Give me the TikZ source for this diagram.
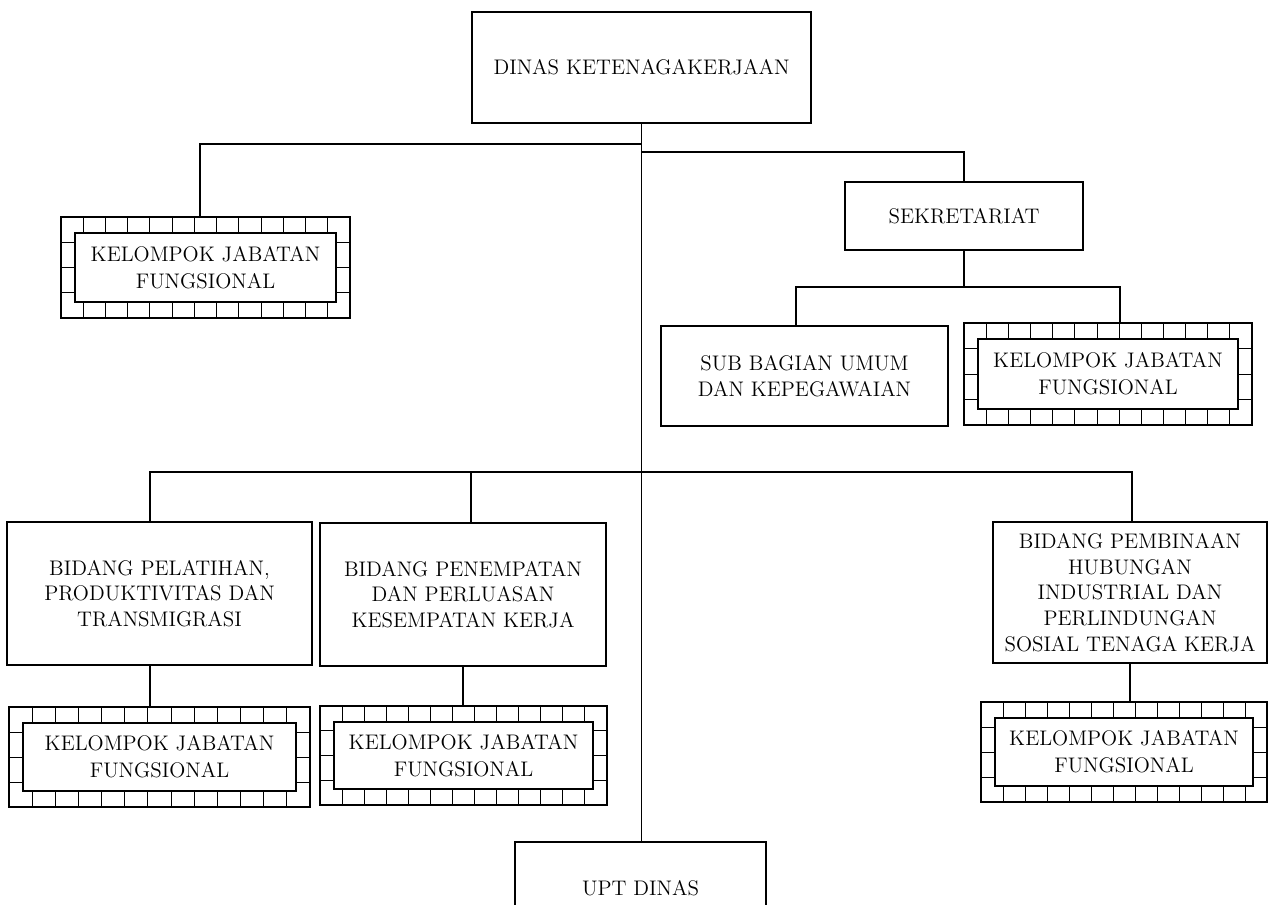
\documentclass[tikz,border=0pt]{standalone}
\usetikzlibrary{shadows}

\newcommand{\teks}{\fontsize{12}{14.6}\selectfont}
\newcommand{\tekskjf}{\fontsize{12}{15.4}\selectfont}

\tikzset{
	kotak/.style={draw, line width=0.7pt, align=center, font=\teks, inner sep=2pt},
	kjfluar/.style={draw, line width=0.6pt, inner sep=0pt},
	kjfdalam/.style={draw, fill=white, line width=0.7pt, align=center, font=\tekskjf, inner sep=0pt,
		drop shadow={shadow xshift=0.6pt, shadow yshift=-0.6pt, fill=black, opacity=0.8}},
	bata/.style={line width=0.5pt},
	garis/.style={line width=0.7pt}
}

% kotak bata: nama, x tengah, y tengah, lebar, tinggi (px)
\newcommand{\kjfbox}[5]{
	\pgfmathsetmacro{\KJw}{#4*0.02}
	\pgfmathsetmacro{\KJh}{#5*0.02}
	\pgfmathsetmacro{\KJwi}{(#4-28)*0.02}
	\pgfmathsetmacro{\KJhi}{(#5-32)*0.02}
	\pgfmathsetmacro{\KJxa}{#2-#4/2}
	\pgfmathsetmacro{\KJya}{#3-#5/2}
	\node[kjfluar, minimum width=\KJw cm, minimum height=\KJh cm] (#1) at (#2,#3) {};
	\foreach \i in {1,...,12}
		\draw[bata] ({\KJxa+\i*#4/13},\KJya) -- ++(0,#5);
	\foreach \j in {1,2,3}
		\draw[bata] (\KJxa,{\KJya+\j*#5/4}) -- ++(#4,0);
	\node[kjfdalam, minimum width=\KJwi cm, minimum height=\KJhi cm] (#1-isi) at (#2,#3) {KELOMPOK JABATAN\\FUNGSIONAL};
}

\begin{document}
\begin{tikzpicture}[x=0.02cm, y=-0.02cm]
\useasboundingbox (0,0) rectangle (1270,904);
\clip (0,0) rectangle (1270,904);

\node[kotak, minimum width=6.78cm, minimum height=2.22cm] (dinas) at (641.5,67.5) {DINAS KETENAGAKERJAAN};
\node[kotak, minimum width=4.76cm, minimum height=1.36cm] (sek) at (964,216) {SEKRETARIAT};
\node[kotak, minimum width=5.74cm, minimum height=2cm] (subbag) at (804.5,376) {SUB BAGIAN UMUM\\DAN KEPEGAWAIAN};
\node[kotak, minimum width=6.1cm, minimum height=2.86cm] (pelatihan) at (159.5,593.5) {BIDANG PELATIHAN,\\PRODUKTIVITAS DAN\\TRANSMIGRASI};
\node[kotak, minimum width=5.72cm, minimum height=2.86cm] (penempatan) at (463,594.5) {BIDANG PENEMPATAN\\DAN PERLUASAN\\KESEMPATAN KERJA};
\node[kotak, minimum width=5.48cm, minimum height=2.82cm] (pembinaan) at (1130,592.5) {BIDANG PEMBINAAN\\HUBUNGAN\\INDUSTRIAL DAN\\PERLINDUNGAN\\SOSIAL TENAGA KERJA};
\node[kotak, minimum width=5.02cm, minimum height=1.84cm] (upt) at (640.5,888) {UPT DINAS};

\kjfbox{kjfA}{205.5}{267.5}{289}{101}
\kjfbox{kjfB}{1108}{374}{288}{102}
\kjfbox{kjfC}{159.5}{757}{301}{100}
\kjfbox{kjfD}{463.5}{755.5}{287}{99}
\kjfbox{kjfE}{1124}{752}{286}{100}

% titik simpang
\coordinate (jA) at (200,144);
\coordinate (jS) at (964,152);
\coordinate (jSa) at (796,287);
\coordinate (jSb) at (1120,287);
\coordinate (jP) at (150,472);
\coordinate (jQ) at (471,472);
\coordinate (jR) at (1132,472);

\draw[garis] (dinas.south) -- (dinas.south |- upt.north);
\draw[garis] (dinas.south |- jA) -- (jA) -- (jA |- kjfA.north);
\draw[garis] (dinas.south |- jS) -- (jS) -- (sek.north);

\draw[garis] (sek.south) -- (sek.south |- jSa);
\draw[garis] (jSa |- subbag.north) -- (jSa) -- (jSb) -- (jSb |- kjfB.north);

\draw[garis] (jP |- pelatihan.north) -- (jP) -- (jR) -- (jR |- pembinaan.north);
\draw[garis] (jQ) -- (jQ |- penempatan.north);

\draw[garis] (jP |- pelatihan.south) -- (jP |- kjfC.north);
\draw[garis] (penempatan.south) -- (penempatan.south |- kjfD.north);
\draw[garis] (pembinaan.south) -- (pembinaan.south |- kjfE.north);
\end{tikzpicture}
\end{document}
